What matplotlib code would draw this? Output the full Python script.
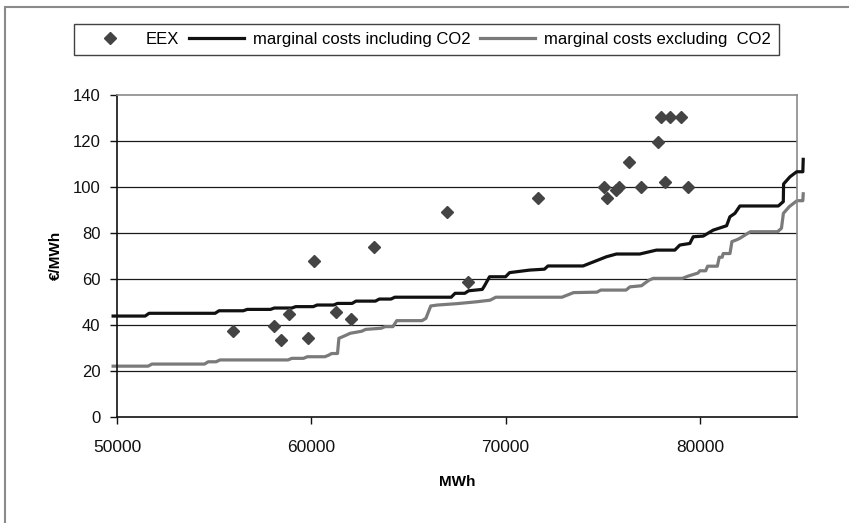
import matplotlib.pyplot as plt
from matplotlib.patches import Rectangle

plt.rcParams["font.family"] = ["Liberation Sans", "DejaVu Sans"]

# EEX price observations (MWh demand, EUR/MWh)
eex_mwh = [55976, 58057, 58436, 58864, 59827, 60116, 61250, 62060, 63210,
           66990, 68057, 71667, 75052, 75223, 75670, 75842, 76358, 76993,
           77869, 78024, 78230, 78488, 79055, 79397]
eex_price = [37.3, 39.5, 33.4, 44.6, 34.4, 67.8, 45.4, 42.5, 73.7,
             89.2, 58.7, 95.3, 99.8, 95.3, 98.6, 99.8, 111.0, 99.8,
             119.7, 130.3, 102.0, 130.3, 130.3, 99.8]

# merit order curve including CO2
incl_mwh = [49800, 51450, 51650, 55050, 55250, 56500, 56700, 57900, 58100,
            59000, 59200, 60100, 60300, 61150, 61350, 62100, 62300, 63300,
            63500, 64100, 64300, 67200, 67400, 67900, 68100, 68800, 68918,
            69175, 70000, 70206, 71237, 72000, 72182, 73986, 74500, 75189,
            75705, 76907, 77766, 78711, 78969, 79485, 79657, 80172, 80688,
            81376, 81546, 81804, 82062, 84037, 84295, 84310, 84639, 84983,
            85300, 85320]
incl_cost = [43.8, 43.8, 45.0, 45.0, 46.1, 46.1, 46.7, 46.7, 47.3,
             47.3, 47.9, 47.9, 48.6, 48.6, 49.3, 49.3, 50.3, 50.3,
             51.2, 51.2, 52.0, 52.0, 53.7, 53.7, 54.8, 55.4, 57.0,
             60.9, 60.9, 62.7, 63.8, 64.2, 65.6, 65.6, 67.3, 69.6,
             70.8, 70.8, 72.5, 72.5, 74.7, 75.4, 78.3, 78.6, 81.2,
             83.1, 87.0, 88.5, 91.7, 91.7, 93.6, 101.3, 104.4, 106.6,
             106.6, 112.0]

# merit order curve excluding CO2
excl_mwh = [49800, 51600, 51800, 54500, 54700, 55100, 55300, 58800, 59000,
            59600, 59800, 60700, 60900, 61050, 61350, 61420, 61800, 62000,
            62600, 62800, 63600, 63800, 64200, 64400, 65700, 65900, 66000,
            66150, 66500, 67500, 68500, 69200, 69500, 72900, 73200, 73500,
            74700, 74900, 76200, 76400, 77000, 77200, 77400, 77600, 79100,
            79400, 79900, 80000, 80300, 80400, 80900, 81000, 81150, 81200,
            81550, 81650, 81900, 82050, 82500, 82600, 84000, 84200, 84300,
            84600, 85000, 85300, 85320]
excl_cost = [22.0, 22.0, 22.9, 22.9, 23.9, 23.9, 24.7, 24.7, 25.4,
             25.4, 26.1, 26.1, 26.8, 27.5, 27.5, 34.1, 35.5, 36.3,
             37.2, 38.0, 38.5, 39.2, 39.2, 41.8, 41.8, 42.8, 45.0,
             48.2, 48.6, 49.2, 50.0, 50.7, 52.0, 52.0, 53.0, 54.0,
             54.2, 55.1, 55.1, 56.5, 57.0, 58.3, 59.5, 60.2, 60.2,
             61.2, 62.5, 63.5, 63.5, 65.5, 65.5, 69.4, 69.4, 71.0,
             71.0, 76.2, 77.0, 77.6, 80.0, 80.5, 80.5, 82.0, 88.5,
             91.4, 94.0, 94.0, 97.0]

x_ticks = [50000, 60000, 70000, 80000]
y_ticks = [0, 20, 40, 60, 80, 100, 120, 140]

W, H = 849, 523
fig = plt.figure(figsize=(W / 100, H / 100), dpi=100)
fig.patches.append(Rectangle((4.5 / W, -0.05), 1.1, 1 - 6.5 / H + 0.05,
                             transform=fig.transFigure, fill=False,
                             edgecolor="#8a8a8a", linewidth=1.5))

ax = fig.add_axes([117 / W, 106.3 / H, 680 / W, 321.7 / H])
ax.set_xlim(50000, 85000)
ax.set_ylim(0, 140)

for y in y_ticks[1:-1]:
    ax.axhline(y, color="#1a1a1a", linewidth=0.9, zorder=1)

eex, = ax.plot(eex_mwh, eex_price, linestyle="none", marker="D",
               markersize=5.8, color="#444444", zorder=4)
incl, = ax.plot(incl_mwh, incl_cost, color="#111111", linewidth=2.3,
                clip_on=False, zorder=3)
excl, = ax.plot(excl_mwh, excl_cost, color="#7a7a7a", linewidth=2.3,
                clip_on=False, zorder=2)

ax.set_xticks(x_ticks)
ax.set_xticklabels([str(t) for t in x_ticks], fontsize=12.5)
ax.set_yticks(y_ticks)
ax.set_yticklabels([str(t) for t in y_ticks], fontsize=12)
ax.tick_params(axis="x", direction="out", length=5, width=1, pad=12, colors="#111111")
ax.tick_params(axis="y", direction="out", length=5, width=1, pad=7, colors="#111111")

ax.spines["left"].set_color("#111111")
ax.spines["bottom"].set_color("#111111")
ax.spines["top"].set_color("#8a8a8a")
ax.spines["right"].set_color("#8a8a8a")
for s in ax.spines.values():
    s.set_linewidth(1.2)

ax.set_xlabel("MWh", fontsize=11, fontweight="bold", labelpad=14)
ax.set_ylabel("€/MWh", fontsize=11, fontweight="bold", labelpad=7)

leg = fig.legend([eex, incl, excl],
                 ["EEX", "marginal costs including CO2", "marginal costs excluding  CO2"],
                 loc="center", bbox_to_anchor=(426.7 / W, 1 - 39.5 / H), ncol=3,
                 fontsize=12, frameon=True, fancybox=False, handlelength=3.3,
                 handletextpad=0.5, columnspacing=0.6, borderpad=0.5,
                 markerscale=1.1)
leg.get_frame().set_edgecolor("#111111")
leg.get_frame().set_linewidth(1.0)

fig.savefig("out.png", dpi=100)
